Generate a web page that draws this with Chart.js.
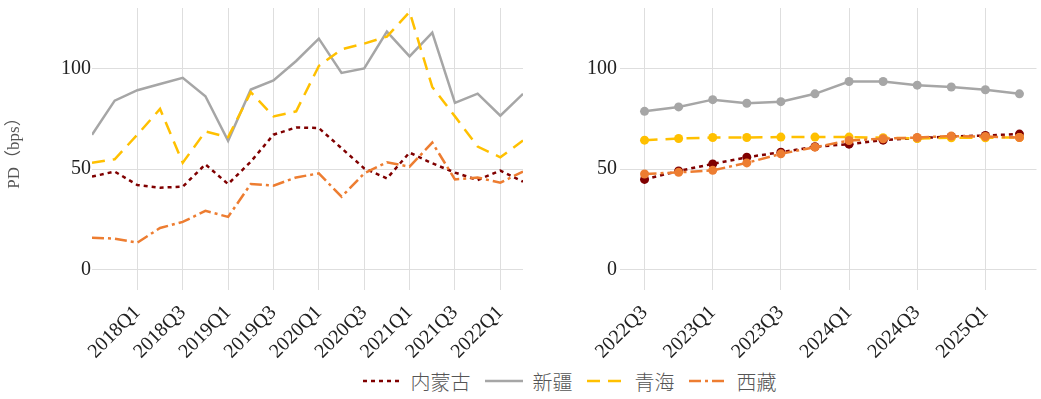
<!DOCTYPE html>
<html>
<head>
<meta charset="utf-8">
<script src="https://cdn.jsdelivr.net/npm/chart.js@4"></script>
<style>
  body { margin: 0; background: #fff; width: 1041px; height: 399px; position: relative; overflow: hidden; }
  #leftBox { position: absolute; left: 0; top: 0; width: 540px; height: 360px; }
  #rightBox { position: absolute; left: 535px; top: 0; width: 506px; height: 360px; }
  #legend { position: absolute; top: 366px; left: 0; width: 1041px; height: 30px;
            display: flex; justify-content: center; align-items: center; padding-left: 112px; box-sizing: border-box;
            font-family: "Noto Sans CJK SC", sans-serif; font-weight: 300; font-size: 20px; color: #555; }
  .item { display: flex; align-items: center; margin-right: 14px; }
  .item svg { margin-right: 10px; }
</style>
</head>
<body>
<div id="leftBox"><canvas id="leftChart"></canvas></div>
<div id="rightBox"><canvas id="rightChart"></canvas></div>
<div id="legend"></div>
<script>
// 季度
const leftQuarters = ['2017Q3','2017Q4','2018Q1','2018Q2','2018Q3','2018Q4','2019Q1','2019Q2','2019Q3','2019Q4',
                      '2020Q1','2020Q2','2020Q3','2020Q4','2021Q1','2021Q2','2021Q3','2021Q4','2022Q1','2022Q2'];
const rightQuarters = ['2022Q3','2022Q4','2023Q1','2023Q2','2023Q3','2023Q4','2024Q1','2024Q2','2024Q3','2024Q4','2025Q1','2025Q2'];

const regions = ['内蒙古', '新疆', '青海', '西藏'];

// 历史 PD (bps)
const neimengguHist = [46.3, 48.8, 42.1, 40.8, 41.3, 52.4, 42.6, 53.7, 67.1, 70.7, 70.4, 60.4, 50.4, 45.4, 58.2, 52.9, 48.3, 44.6, 49.3, 43.8];
const xinjiangHist  = [67.1, 84.0, 89.2, 92.3, 95.3, 86.2, 64.1, 89.5, 94.0, 103.7, 114.8, 97.8, 100.0, 118.3, 106.0, 117.8, 82.9, 87.5, 76.5, 87.4];
const qinghaiHist   = [53.2, 54.9, 67.1, 79.9, 53.2, 68.7, 65.9, 88.2, 76.2, 78.7, 101.2, 109.5, 112.3, 115.8, 128.1, 90.8, 76.2, 61.2, 55.9, 64.2];
const xizangHist    = [16.0, 15.5, 13.5, 20.8, 23.8, 29.3, 26.3, 42.6, 41.8, 45.9, 47.9, 36.3, 47.9, 53.4, 51.2, 63.2, 44.9, 45.8, 43.3, 48.8];

// 预测 PD (bps)
const neimengguFcst = [44.9, 49.1, 52.6, 55.9, 58.4, 61.1, 62.4, 64.4, 65.4, 66.2, 66.7, 67.4];
const xinjiangFcst  = [78.7, 80.9, 84.5, 82.7, 83.5, 87.4, 93.5, 93.5, 91.7, 90.8, 89.4, 87.4];
const qinghaiFcst   = [64.4, 65.2, 65.7, 65.7, 65.9, 65.9, 65.9, 65.6, 65.2, 65.6, 65.6, 65.7];
const xizangFcst    = [47.6, 48.4, 49.4, 53.1, 57.6, 60.9, 64.2, 65.1, 65.7, 66.4, 66.2, 65.7];

const yTicks = [0, 50, 100];
const leftTickIdx = [2, 4, 6, 8, 10, 12, 14, 16, 18];
const rightTickIdx = [0, 2, 4, 6, 8, 10];

const colors = ['#800000', '#A6A6A6', '#FFC000', '#ED7D31'];
const dashes = [[4, 4], [], [13, 8], [12, 4, 3, 4]];
const drawOrder = [4, 3, 2, 1];

const serif = 'Liberation Serif, "Times New Roman", "Noto Sans CJK SC", serif';
const gridColor = '#dedede';

function makeDatasets(seriesList, quarters, withPoints) {
  return seriesList.map((vals, k) => ({
    label: regions[k],
    data: quarters.map((q, i) => ({ x: i, y: vals[i] })),
    borderColor: colors[k],
    backgroundColor: colors[k],
    borderWidth: 2.5,
    borderDash: dashes[k],
    borderCapStyle: 'butt',
    pointRadius: withPoints ? 4.5 : 0,
    pointBorderWidth: 0,
    pointHoverRadius: 0,
    tension: 0,
    order: drawOrder[k]
  }));
}

function makeOptions(quarters, tickIdx, xMin, xMax, yWidth, padRight, yPad, showTitle) {
  return {
    responsive: true,
    maintainAspectRatio: false,
    animation: false,
    layout: { padding: { top: 8, right: padRight, bottom: 0, left: 0 } },
    plugins: { legend: { display: false }, tooltip: { enabled: false } },
    scales: {
      x: {
        type: 'linear',
        min: xMin,
        max: xMax,
        afterBuildTicks: s => { s.ticks = tickIdx.map(v => ({ value: v })); },
        afterFit: s => { s.height = 70; s.paddingLeft = 0; s.paddingRight = 0; },
        grid: { color: gridColor, lineWidth: 1, drawTicks: false },
        border: { display: false },
        ticks: {
          autoSkip: false,
          minRotation: 45,
          maxRotation: 45,
          padding: 11,
          color: '#222',
          font: { family: serif, size: 20 },
          callback: v => quarters[v] || ''
        }
      },
      y: {
        min: -10,
        max: 130,
        afterBuildTicks: s => { s.ticks = yTicks.map(v => ({ value: v })); },
        afterFit: s => { s.width = yWidth; s.paddingTop = 0; s.paddingBottom = 0; },
        grid: { color: gridColor, lineWidth: 1, drawTicks: false },
        border: { display: false },
        ticks: { padding: yPad, color: '#222', font: { family: serif, size: 20 } },
        title: {
          display: showTitle,
          text: 'PD（bps）',
          color: '#555',
          font: { family: serif, size: 17 },
          padding: { top: 4, bottom: 0 }
        }
      }
    }
  };
}

new Chart(document.getElementById('leftChart'), {
  type: 'line',
  data: { datasets: makeDatasets([neimengguHist, xinjiangHist, qinghaiHist, xizangHist], leftQuarters, false) },
  options: makeOptions(leftQuarters, leftTickIdx, 0, leftQuarters.length - 1, 92, 17, 1, true)
});

new Chart(document.getElementById('rightChart'), {
  type: 'line',
  data: { datasets: makeDatasets([neimengguFcst, xinjiangFcst, qinghaiFcst, xizangFcst], rightQuarters, true) },
  options: makeOptions(rightQuarters, rightTickIdx, -0.72, 11.5, 85, 1, 3, false)
});

// 图例
const legend = document.getElementById('legend');
regions.forEach((name, k) => {
  const item = document.createElement('div');
  item.className = 'item';
  const dash = dashes[k].length ? dashes[k].join(' ') : 'none';
  item.innerHTML = '<svg width="38" height="10"><line x1="0" y1="5" x2="38" y2="5" stroke="' + colors[k] +
    '" stroke-width="2.5" stroke-dasharray="' + dash + '"/></svg><span>' + name + '</span>';
  legend.appendChild(item);
});
</script>
</body>
</html>
